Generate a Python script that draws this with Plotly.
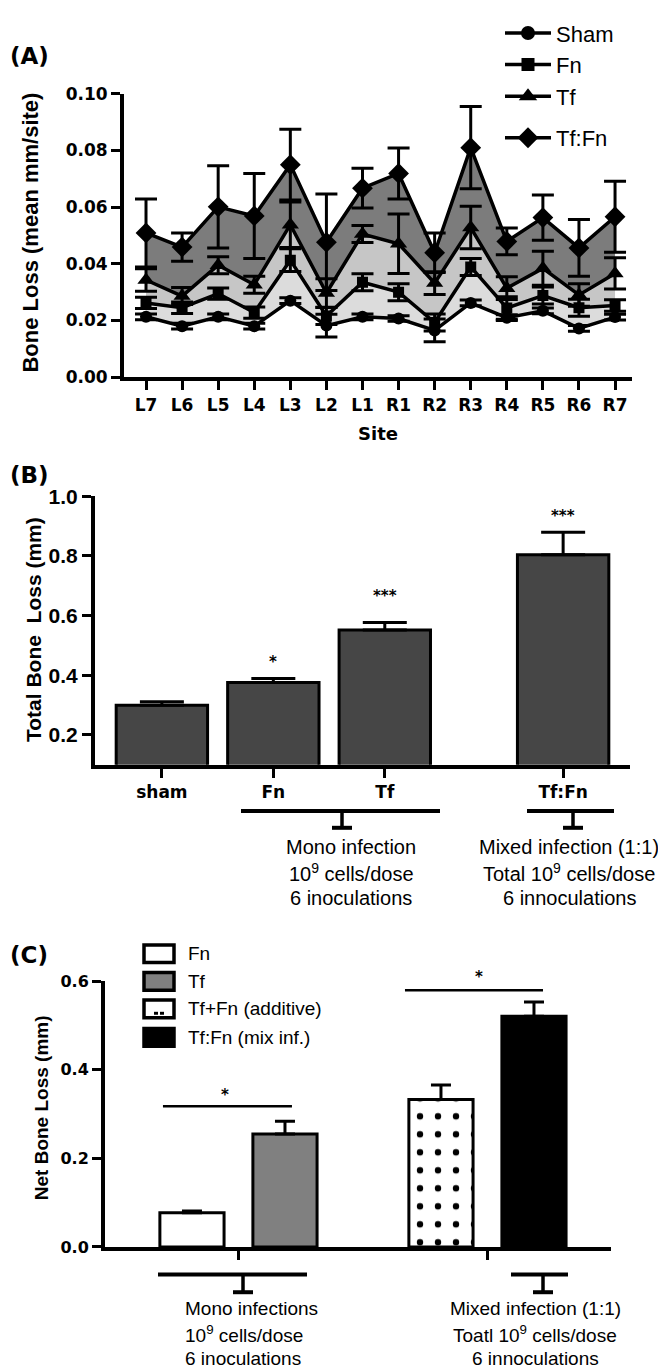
import plotly.graph_objects as go

W, H = 666, 1369
def px(x): return x / W
def py(y): return 1 - y / H

# ---------------- Panel A data ----------------
sites = ["L7", "L6", "L5", "L4", "L3", "L2", "L1", "R1", "R2", "R3", "R4", "R5", "R6", "R7"]
sham = [0.0213, 0.0180, 0.0213, 0.0180, 0.0270, 0.0182, 0.0213, 0.0207, 0.0165, 0.0262, 0.0210, 0.0234, 0.0172, 0.0212]
sham_err = [0.001, 0.001, 0.001, 0.001, 0.001, 0.004, 0.001, 0.001, 0.004, 0.001, 0.001, 0.001, 0.001, 0.001]
fn = [0.0262, 0.0245, 0.0295, 0.0228, 0.0413, 0.0216, 0.0335, 0.0300, 0.0193, 0.0389, 0.0244, 0.0288, 0.0245, 0.0253]
fn_err = [0.002, 0.002, 0.002, 0.002, 0.004, 0.003, 0.003, 0.003, 0.003, 0.003, 0.004, 0.003, 0.003, 0.002]
tf = [0.0343, 0.0286, 0.0395, 0.0326, 0.0538, 0.0297, 0.0505, 0.0471, 0.0332, 0.0528, 0.0314, 0.0384, 0.0290, 0.0366]
tf_err = [0.004, 0.003, 0.003, 0.003, 0.008, 0.005, 0.003, 0.0105, 0.004, 0.0075, 0.004, 0.006, 0.004, 0.0055]
tffn = [0.0509, 0.0459, 0.0601, 0.0569, 0.0750, 0.0476, 0.0667, 0.0719, 0.0439, 0.0810, 0.0479, 0.0563, 0.0456, 0.0566]
tffn_err = [0.012, 0.005, 0.0145, 0.015, 0.0125, 0.017, 0.007, 0.009, 0.007, 0.0145, 0.0047, 0.008, 0.010, 0.0125]

# ---------------- Panel B data ----------------
b_groups = ["sham", "Fn", "Tf", "Tf:Fn"]
b_values = [0.300, 0.376, 0.552, 0.804]
b_errors = [0.011, 0.013, 0.025, 0.075]
b_stars = {"Fn": ("*", 0.445), "Tf": ("***", 0.665), "Tf:Fn": ("***", 0.935)}

# ---------------- Panel C data ----------------
c_groups = ["Fn", "Tf", "Tf+Fn (additive)", "Tf:Fn (mix inf.)"]
c_values = [0.077, 0.255, 0.333, 0.521]
c_errors = [0.004, 0.029, 0.033, 0.032]

# layout constants (positions in axis units)
b_pos = [0, 1, 2, 3.60]
c_pos = [0, 1, 2.677, 3.677]

DJB = "DejaVu Sans"
LIB = "Liberation Sans, Arial"

fig = go.Figure()

# ---- Panel A traces ----
series = [
    ("Sham", sham, sham_err, "circle", 12, None, None, "g1"),
    ("Fn", fn, fn_err, "square", 11, "tonexty", "#dcdcdc", "g1"),
    ("Tf", tf, tf_err, "triangle-up", 15, "tonexty", "#c6c6c6", "g1"),
    ("Tf:Fn", tffn, tffn_err, "diamond", 16, "tonexty", "#7c7c7c", "g2"),
]
for name, vals, errs, sym, sz, fill, fc, grp in series:
    fig.add_trace(go.Scatter(
        x=list(range(len(sites))), y=vals, mode="lines+markers", name=name,
        line=dict(color="black", width=3.5),
        marker=dict(symbol=sym, size=sz, color="black"),
        error_y=dict(type="data", array=errs, color="black", thickness=3, width=11),
        fill=fill, fillcolor=fc, showlegend=False, xaxis="x", yaxis="y"))
for name, vals, errs, sym, sz, fill, fc, grp in series:
    fig.add_trace(go.Scatter(
        x=[None], y=[None], mode="lines+markers", name=name, legendgroup=grp,
        line=dict(color="black", width=3.5),
        marker=dict(symbol=sym, size=sz + 2, color="black"),
        showlegend=True, legend="legend", xaxis="x", yaxis="y"))

# ---- Panel B ----
fig.add_trace(go.Bar(
    x=b_pos, y=b_values, width=0.82, xaxis="x2", yaxis="y2", showlegend=False,
    marker=dict(color="#464646", line=dict(color="black", width=3)),
    error_y=dict(type="data", array=b_errors, arrayminus=[0] * 4, symmetric=False,
                 color="black", thickness=3, width=22)))

# ---- Panel C ----
c_colors = ["white", "#808080", "white", "black"]
c_patterns = [None, None,
              dict(shape=".", fgcolor="black", bgcolor="white", fgopacity=1, size=18, solidity=0.1),
              None]
for i in range(4):
    mk = dict(color=c_colors[i], line=dict(color="black", width=3))
    if c_patterns[i]:
        mk["pattern"] = c_patterns[i]
    fig.add_trace(go.Bar(
        x=[c_pos[i]], y=[c_values[i]], width=0.69, name=c_groups[i], xaxis="x3", yaxis="y3",
        marker=mk, showlegend=False,
        error_y=dict(type="data", array=[c_errors[i]], arrayminus=[0], symmetric=False,
                     color="black", thickness=3, width=10)))

def axis(font_family, font_size, **kw):
    d = dict(showline=True, linecolor="black", linewidth=4, ticks="outside",
             tickcolor="black", tickwidth=3, ticklen=9, showgrid=False, zeroline=False,
             tickfont=dict(family=font_family, size=font_size, color="black", weight="bold"))
    d.update(kw)
    return d

fig.update_layout(
    width=W, height=H, margin=dict(l=0, r=0, t=0, b=0),
    paper_bgcolor="white", plot_bgcolor="white", barmode="overlay",
    font=dict(family=LIB, color="black"),
    xaxis=axis(DJB, 17, domain=[px(116), px(624)], range=[-0.61, 13.47], anchor="y",
               tickvals=list(range(len(sites))), ticktext=sites),
    yaxis=axis(DJB, 17, domain=[py(363), py(75)], range=[0, 0.10], anchor="x",
               tickvals=[0, 0.02, 0.04, 0.06, 0.08, 0.10], tickformat=".2f"),
    xaxis2=axis(DJB, 17, domain=[px(87), px(622)], range=[-0.60, 4.20], anchor="y2",
                tickvals=b_pos, ticktext=b_groups),
    yaxis2=axis(LIB, 21, domain=[py(757), py(484)], range=[0.1, 1.0], anchor="x2",
                tickvals=[0.2, 0.4, 0.6, 0.8, 1.0], tickformat=".1f"),
    xaxis3=axis(DJB, 16, domain=[px(97), px(603)], range=[-0.935, 4.505], anchor="y3",
                tickvals=[0.495, 3.18], showticklabels=False),
    yaxis3=axis(DJB, 16, domain=[py(1247), py(977)], range=[0, 0.6], anchor="x3",
                tickvals=[0, 0.2, 0.4, 0.6], tickformat=".1f"),
    legend=dict(x=px(492), y=py(-8), xanchor="left", yanchor="top", bgcolor="rgba(0,0,0,0)",
                font=dict(size=22, family=LIB), itemwidth=46,
                traceorder="grouped", tracegroupgap=10),
)

ann = []
def label(text, x, y, size=15, bold=True, angle=0, xanchor="center", family=LIB):
    ann.append(dict(text=text, x=px(x), y=py(y), xref="paper", yref="paper", showarrow=False,
                    textangle=angle, xanchor=xanchor, yanchor="middle",
                    font=dict(size=size, color="black", family=family,
                              weight="bold" if bold else "normal")))

label("(A)", 0, 37, size=23, xanchor="left", family=DJB)
label("(B)", 0, 462, size=23, xanchor="left", family=DJB)
label("(C)", 0, 950, size=23, xanchor="left", family=DJB)
label("Bone Loss (mean mm/site)", 23, 216, size=22, angle=-90)
label("Site", 370, 420, size=18, family=DJB)
label("Total Bone  Loss (mm)", 25, 620, size=21, angle=-90)
label("Net Bone Loss (mm)", 33, 1106, size=19, angle=-90)

for i, t in enumerate(["Mono infection", "10<sup>9</sup> cells/dose", "6 inoculations"]):
    label(t, 343, 841 + 25.5 * i, size=20, bold=False)
for i, t in enumerate(["Mixed infection (1:1)", "Total 10<sup>9</sup> cells/dose", "6 innoculations"]):
    label(t, 561, 841 + 25.5 * i, size=20, bold=False)
for i, t in enumerate(["Mono infections", "10<sup>9</sup> cells/dose", "6 inoculations"]):
    label(t, 175, 1310 + 25 * i, size=19, bold=False, xanchor="left")
for i, t in enumerate(["Mixed infection (1:1)", "Toatl 10<sup>9</sup> cells/dose", "6 innoculations"]):
    label(t, 527, 1310 + 25 * i, size=19, bold=False)

for g, (txt, yv) in b_stars.items():
    ann.append(dict(text=txt, x=b_pos[b_groups.index(g)], y=yv, xref="x2", yref="y2",
                    showarrow=False, font=dict(size=15, color="black", family=DJB, weight="bold")))
label("*", 217, 1093, size=15, family=DJB)
label("*", 471, 973, size=15, family=DJB)

shapes = []
def seg(x0, y0, x1, y1, w=3.5):
    shapes.append(dict(type="line", xref="paper", yref="paper", x0=px(x0), y0=py(y0),
                       x1=px(x1), y1=py(y1), line=dict(color="black", width=w)))

def bracket(xl, xr, xs, y_top, y_bot, foot):
    seg(xl, y_top, xr, y_top, 4)
    seg(xs, y_top, xs, y_bot, 3.5)
    seg(xs - foot, y_bot, xs + foot, y_bot, 4)

bracket(233, 432, 334, 804, 821, 10)
bracket(519, 606, 565, 804, 821, 10)
bracket(150, 299, 235, 1275, 1293, 10)
bracket(503, 560, 535, 1275, 1293, 10)

# significance lines panel C
shapes.append(dict(type="line", xref="x3", yref="y3", x0=-0.312, x1=1.075, y0=0.318, y1=0.318,
                   line=dict(color="black", width=2.5)))
shapes.append(dict(type="line", xref="x3", yref="y3", x0=2.29, x1=3.774, y0=0.58, y1=0.58,
                   line=dict(color="black", width=2.5)))

# legend for panel C (boxes + labels)
leg_y = [949, 977, 1005, 1034]
for i, name in enumerate(c_groups):
    y = leg_y[i]
    shapes.append(dict(type="rect", xref="paper", yref="paper",
                       x0=px(136), x1=px(166), y0=py(y + 9), y1=py(y - 9),
                       fillcolor=c_colors[i], line=dict(color="black", width=3.5)))
    if i == 2:
        for gx in (146, 152):
            shapes.append(dict(type="rect", xref="paper", yref="paper",
                               x0=px(gx), x1=px(gx + 4), y0=py(y + 6), y1=py(y + 3),
                               fillcolor="black", line=dict(width=0)))
    label(name, 178, y, size=19, bold=False, xanchor="left")

fig.update_layout(annotations=ann, shapes=shapes)

fig.write_html("out.html")
